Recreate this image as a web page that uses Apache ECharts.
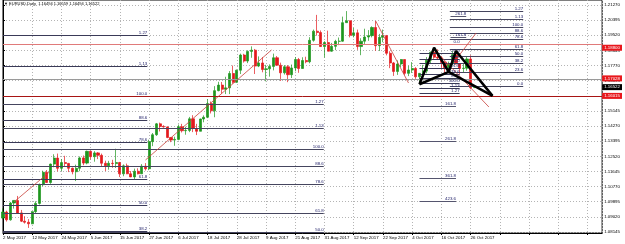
<!DOCTYPE html>
<html>
<head>
<meta charset="utf-8">
<script src="https://cdn.jsdelivr.net/npm/echarts@6/dist/echarts.min.js"></script>
<style>
html, body { margin: 0; padding: 0; background: #fff; }
#main { width: 625px; height: 244px; }
</style>
</head>
<body>
<div id="main"></div>
<script>
// EURUSD daily bars, 2 May 2017 -> 27 Oct 2017 (broker has one Sunday bar on 2 Jul)
var opens = [1.0895,1.0930,1.0885,1.0982,1.0997,1.0925,1.0877,1.0871,1.0862,1.0932,1.0980,1.1088,1.1160,1.1101,1.1207,1.1242,1.1183,1.1216,1.1211,1.1183,1.1163,1.1183,
  1.1243,1.1213,1.1281,1.1250,1.1272,1.1258,1.1212,1.1197,1.1212,1.1210,1.1216,1.1151,1.1197,1.1151,1.1133,1.1166,1.1151,1.1195,1.1180,1.1337,1.1377,1.1440,
  1.1425,
  1.1422,1.1361,1.1346,1.1350,1.1423,1.1400,1.1402,1.1469,1.1413,1.1397,1.1468,1.1478,1.1557,1.1515,1.1632,1.1664,1.1640,1.1648,1.1731,1.1680,1.1750,
  1.1838,1.1803,1.1859,1.1866,1.1774,1.1792,1.1754,1.1758,1.1772,1.1822,1.1779,1.1735,1.1770,1.1724,1.1763,1.1812,1.1760,1.1806,1.1799,1.1923,1.1976,1.1968,1.1887,
  1.1910,1.1860,1.1888,1.1917,1.1918,1.2025,1.2036,1.1952,1.1966,1.1887,1.1918,1.1942,1.1950,1.1997,1.1892,1.1940,1.1950,1.1848,1.1792,1.1743,1.1786,
  1.1812,1.1732,1.1751,1.1760,1.1712,1.1732,1.1745,1.1808,1.1854,1.1825,1.1820,1.1795,1.1765,1.1787,1.1840,1.1786,1.1760,1.1762,1.1815,1.16494];
var highs = [1.0951,1.0938,1.0988,1.0999,1.1023,1.0942,1.0906,1.0889,1.0935,1.0992,1.1095,1.1169,1.1173,1.1210,1.1264,1.1268,1.1236,1.1255,1.1214,1.1187,1.1204,1.1251,
  1.1257,1.1285,1.1284,1.1282,1.1277,1.1268,1.1227,1.1226,1.1232,1.1296,1.1220,1.1205,1.1210,1.1167,1.1181,1.1183,1.1207,1.1213,1.1348,1.1387,1.1445,1.1447,
  1.1432,
  1.1425,1.1364,1.1366,1.1436,1.1440,1.1423,1.1480,1.1490,1.1440,1.1470,1.1489,1.1583,1.1569,1.1658,1.1683,1.1682,1.1712,1.1745,1.1777,1.1754,1.1846,
  1.1845,1.1865,1.1888,1.1873,1.1830,1.1826,1.1781,1.1784,1.1846,1.1832,1.1794,1.1780,1.1780,1.1783,1.1826,1.1821,1.1825,1.1828,1.1941,1.1985,1.2070,1.1980,1.1918,
  1.1979,1.1908,1.1926,1.1939,1.2060,1.2092,1.2037,1.1995,1.1985,1.1935,1.1990,1.1982,1.2004,1.2035,1.1960,1.1985,1.1954,1.1860,1.1798,1.1807,1.1815,
  1.1812,1.1776,1.1797,1.1768,1.1730,1.1781,1.1826,1.1858,1.1880,1.1871,1.1832,1.1805,1.1800,1.1860,1.1861,1.1790,1.1791,1.1830,1.1837,1.16559];
var lows = [1.0887,1.0875,1.0880,1.0950,1.0921,1.0872,1.0863,1.0838,1.0860,1.0924,1.0973,1.1079,1.1098,1.1093,1.1189,1.1165,1.1167,1.1191,1.1161,1.1148,1.1109,1.1166,
  1.1201,1.1206,1.1234,1.1221,1.1236,1.1195,1.1167,1.1175,1.1186,1.1185,1.1132,1.1137,1.1149,1.1132,1.1118,1.1148,1.1150,1.1170,1.1172,1.1311,1.1370,1.1396,
  1.1418,
  1.1357,1.1334,1.1313,1.1345,1.1390,1.1377,1.1392,1.1392,1.1375,1.1397,1.1449,1.1473,1.1500,1.1478,1.1628,1.1615,1.1612,1.1612,1.1672,1.1677,1.1728,
  1.1794,1.1791,1.1822,1.1728,1.1768,1.1738,1.1686,1.1713,1.1749,1.1777,1.1688,1.1725,1.1681,1.1705,1.1744,1.1735,1.1759,1.1790,1.1790,1.1915,1.1950,1.1885,1.1823,
  1.1860,1.1857,1.1866,1.1895,1.1915,1.2025,1.1940,1.1940,1.1868,1.1837,1.1902,1.1920,1.1940,1.1862,1.1861,1.1912,1.1836,1.1762,1.1717,1.1723,1.1768,
  1.1722,1.1716,1.1734,1.1700,1.1669,1.1725,1.1732,1.1786,1.1816,1.1810,1.1762,1.1731,1.1748,1.1780,1.1784,1.1728,1.1738,1.1747,1.1640,1.16494];
var closes = [1.0930,1.0885,1.0982,1.0997,1.0925,1.0877,1.0871,1.0862,1.0932,1.0980,1.1088,1.1160,1.1101,1.1207,1.1242,1.1183,1.1216,1.1211,1.1183,1.1163,1.1183,1.1243,
  1.1213,1.1281,1.1250,1.1272,1.1258,1.1212,1.1197,1.1212,1.1210,1.1216,1.1151,1.1197,1.1151,1.1133,1.1166,1.1151,1.1195,1.1180,1.1337,1.1377,1.1440,1.1425,
  1.1422,
  1.1361,1.1346,1.1350,1.1423,1.1400,1.1402,1.1469,1.1413,1.1397,1.1468,1.1478,1.1557,1.1515,1.1632,1.1664,1.1640,1.1648,1.1731,1.1680,1.1750,1.1838,
  1.1803,1.1859,1.1866,1.1774,1.1792,1.1754,1.1758,1.1772,1.1822,1.1779,1.1735,1.1770,1.1724,1.1763,1.1812,1.1760,1.1806,1.1799,1.1923,1.1976,1.1968,1.1887,1.1910,
  1.1860,1.1888,1.1917,1.1918,1.2025,1.2036,1.1952,1.1966,1.1887,1.1918,1.1942,1.1950,1.1997,1.1892,1.1940,1.1950,1.1848,1.1792,1.1743,1.1786,1.1812,
  1.1732,1.1751,1.1760,1.1712,1.1732,1.1745,1.1808,1.1854,1.1825,1.1820,1.1795,1.1765,1.1787,1.1840,1.1786,1.1760,1.1762,1.1815,1.1649,1.16522];

// date labels, one every 8 bars
var xTickLabels = ['2 May 2017','12 May 2017','24 May 2017','5 Jun 2017','15 Jun 2017','27 Jun 2017','6 Jul 2017','18 Jul 2017',
  '28 Jul 2017','9 Aug 2017','21 Aug 2017','31 Aug 2017','12 Sep 2017','22 Sep 2017','4 Oct 2017','16 Oct 2017','26 Oct 2017'];
var yTickValues = [1.08145,1.09020,1.09895,1.10770,1.11645,1.12520,1.13395,1.14270,1.15145,1.16020,1.16895,1.17770,1.18645,1.19520,1.20395,1.21270];

// horizontal price lines with their tags on the price scale
var tagPrices = [1.18800, 1.17028, 1.16015, 1.16522];
var tagKinds  = ['red', 'red', 'red', 'bid'];

// fibonacci objects: level texts, level prices, bar span
var fibALevels = ['1.27','1.13','100.0','88.6','78.6','61.8','50.0','38.2'];
var fibAPrices = [1.19503,1.17722,1.16015,1.14622,1.13350,1.11210,1.09706,1.08203];
var fibASpan = [0, 39.5];
var fibBLevels = ['1.27','1.13','100.0','88.6','78.6','61.8','50.0'];
var fibBPrices = [1.15547,1.14159,1.12945,1.11962,1.10921,1.09244,1.08150];
var fibBSpan = [0, 87.8];
var fibCLevels = ['1.27','1.13','100.0','88.6','78.6','61.8','50.0','38.2','23.6','0.0'];
var fibCPrices = [1.20925,1.20445,1.20000,1.19613,1.19271,1.18699,1.18294,1.17889,1.17398,1.16588];
var fibCSpan = [122.3, 142.4];
var fibDLevels = ['161.8','261.8','361.8','423.6'];
var fibDPrices = [1.15432,1.13408,1.11268,1.09938];
var fibDSpan = [114, 124];
var fibELevels = ['0.0','23.6','38.2','50.0','61.8','78.6','88.6','100.0','1.13','1.27'];
var fibEPrices = [1.19017,1.18485,1.18155,1.17889,1.17623,1.17242,1.17016,1.16762,1.16473,1.16154];
var fibESpan = [114, 125];
var fibFLevels = ['261.8','161.8'];
var fibFPrices = [1.20636,1.19422];
var fibFSpan = [122.5, 126.8];

// thin trend lines: [bar, price] start and end
var trendStart = [[3, 1.09880], [39, 1.12309], [102, 1.20350], [120, 1.18265], [123.5, 1.17976]];
var trendEnd   = [[12.7, 1.11615], [73.5, 1.18670], [111, 1.16762], [133, 1.15374], [129.5, 1.19653]];

// harmonic pattern points X A B C D
var patternBars   = [114, 118, 122, 124, 134];
var patternPrices = [1.1669, 1.1880, 1.1740, 1.1861, 1.16015];

var chart = echarts.init(document.getElementById('main'));

var candles = [];
for (var i = 0; i < opens.length; i++) {
  candles.push([i, opens[i], closes[i], lows[i], highs[i]]);
}

var FONT = 'Liberation Sans';
var FS = 4.4;
var Y_MIN = 1.08087, Y_MAX = 1.21561;

function fibSeries(levels, prices, span, color) {
  return {
    type: 'line',
    data: [],
    silent: true,
    markLine: {
      symbol: ['none', 'none'],
      silent: true,
      animation: false,
      lineStyle: { color: color, width: 1, type: 'solid' },
      label: {
        show: true, position: 'insideEndTop', formatter: '{b}',
        fontSize: FS, fontFamily: FONT, color: '#23236a', distance: [0, 0.5]
      },
      emphasis: { disabled: true },
      data: levels.map(function (t, k) {
        return [{ name: t, coord: [span[0], prices[k]] }, { coord: [span[1], prices[k]] }];
      })
    }
  };
}

var tagLineColors = ['#e07a7a', '#e07a7a', '#a81414', '#9a9a9a'];
var tagLines = tagPrices.map(function (p, k) {
  return { yAxis: p, lineStyle: { color: tagLineColors[k], width: 1, type: 'solid' } };
});

var patternMain = patternBars.map(function (b, k) { return [b, patternPrices[k]]; });
var patternBase = [0, 2, 4].map(function (k) { return [patternBars[k], patternPrices[k]]; });

var option = {
  animation: false,
  backgroundColor: '#ffffff',
  title: {
    text: '\u25BC EURUSD,Daily  1.16494 1.16559 1.16494 1.16522',
    left: 4, top: 2, padding: 0,
    textStyle: { fontSize: 4, fontWeight: 'normal', color: '#000', fontFamily: FONT }
  },
  grid: {
    left: 2, right: 19, top: 0, bottom: 11,
    show: true, borderColor: '#000', borderWidth: 1, backgroundColor: '#fff'
  },
  xAxis: {
    type: 'value', min: 0, max: 164, interval: 8,
    axisLine: { show: true, lineStyle: { color: '#000', width: 1 } },
    axisTick: { show: true, length: 2, lineStyle: { color: '#000' } },
    axisLabel: {
      fontSize: FS, fontFamily: FONT, color: '#000', align: 'left', margin: 3,
      showMaxLabel: false,
      formatter: function (v) {
        var k = v / 8;
        return (k === Math.round(k) && k < xTickLabels.length) ? xTickLabels[k] : '';
      }
    },
    splitLine: { show: true, lineStyle: { color: '#b4b4b4', type: [1, 2], width: 1 } }
  },
  yAxis: [{
    type: 'value', position: 'right', min: Y_MIN, max: Y_MAX,
    axisLine: { show: true, lineStyle: { color: '#000', width: 1 } },
    axisTick: { show: true, length: 2, customValues: yTickValues, lineStyle: { color: '#000' } },
    axisLabel: {
      fontSize: FS, fontFamily: FONT, color: '#000', margin: 2,
      customValues: yTickValues,
      formatter: function (v) { return v.toFixed(5); }
    },
    splitLine: { show: true, lineStyle: { color: '#b4b4b4', type: [1, 2], width: 1 } }
  }, {
    // price tags drawn on top of the price scale
    type: 'value', position: 'right', min: Y_MIN, max: Y_MAX, z: 10,
    axisLine: { show: false },
    axisTick: { show: false, customValues: tagPrices },
    splitLine: { show: false },
    axisLabel: {
      margin: 0, customValues: tagPrices,
      formatter: function (v) {
        var k = 0;
        for (var j = 1; j < tagPrices.length; j++) {
          if (Math.abs(tagPrices[j] - v) < Math.abs(tagPrices[k] - v)) k = j;
        }
        return (tagKinds[k] === 'red' ? '{r|' : '{b|') + tagPrices[k].toFixed(5) + '}';
      },
      rich: {
        r: { backgroundColor: '#e8171c', color: '#fff', fontSize: FS, fontFamily: FONT, padding: [1, 2, 1, 2] },
        b: { backgroundColor: '#000000', color: '#fff', fontSize: FS, fontFamily: FONT, padding: [1, 2, 1, 2] }
      }
    }
  }],
  series: [
    fibSeries(fibBLevels, fibBPrices, fibBSpan, '#45455e'),
    fibSeries(fibALevels, fibAPrices, fibASpan, '#3a3a58'),
    fibSeries(fibCLevels, fibCPrices, fibCSpan, '#45455e'),
    fibSeries(fibDLevels, fibDPrices, fibDSpan, '#55556e'),
    fibSeries(fibELevels, fibEPrices, fibESpan, '#3a3a58'),
    fibSeries(fibFLevels, fibFPrices, fibFSpan, '#55556e'),
    {
      type: 'line', data: [], silent: true, z: 3,
      markLine: {
        symbol: ['none', 'none'], silent: true, animation: false,
        label: { show: false },
        emphasis: { disabled: true },
        data: tagLines
      }
    },
    {
      type: 'candlestick',
      data: candles,
      encode: { x: 0, y: [1, 2, 3, 4] },
      barWidth: 2.6,
      silent: true,
      itemStyle: {
        color: '#1e961e', color0: '#e3191d',
        borderColor: '#1e961e', borderColor0: '#e3191d', borderWidth: 0.7
      }
    },
    {
      type: 'line', data: [], silent: true, z: 4,
      markLine: {
        symbol: ['none', 'none'], silent: true, animation: false,
        lineStyle: { color: '#c8403a', width: 0.8, type: 'solid' },
        label: { show: false },
        emphasis: { disabled: true },
        data: trendStart.map(function (s, k) {
          return [{ coord: s }, { coord: trendEnd[k] }];
        })
      }
    },
    {
      type: 'line', data: patternMain, symbol: 'none', silent: true, z: 5,
      lineStyle: { color: '#000', width: 2.5 }
    },
    {
      type: 'line', data: patternBase, symbol: 'none', silent: true, z: 5,
      lineStyle: { color: '#000', width: 2.5 }
    }
  ]
};

chart.setOption(option);
</script>
</body>
</html>
